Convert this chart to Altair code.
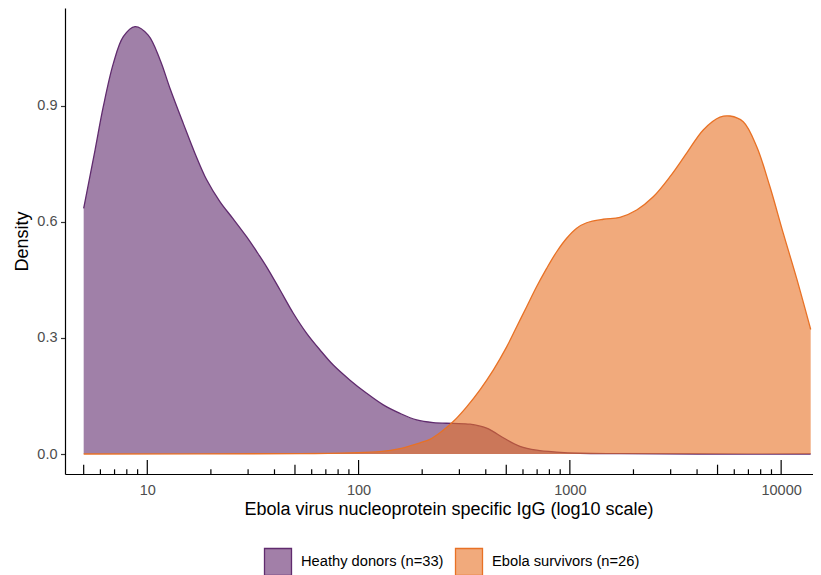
import altair as alt
import pandas as pd

groups = ["Heathy donors (n=33)", "Ebola survivors (n=26)"]
base_colors = ["#602B6E", "#E87125"]
legend_fills = ["#A27FA8", "#F1AA7C"]

heathy_x = [5.0, 5.66, 6.19, 6.91, 7.70, 8.75, 10.1, 11.5, 12.8, 14.8, 16.8, 19.1,
            22.1, 25.5, 29.5, 32.9, 36.7, 42.5, 49.1, 56.8, 65.7, 75.9, 91.1, 109.2,
            130.9, 157.1, 188.4, 225.7, 280.6, 336.6, 403.9, 434.0, 484, 580.4, 696.6, 866,
            1116, 1726, 4121, 13800]
heathy_y = [0.635, 0.786, 0.898, 1.010, 1.079, 1.105, 1.083, 1.019, 0.946, 0.855, 0.778, 0.709,
            0.652, 0.608, 0.562, 0.524, 0.484, 0.424, 0.364, 0.312, 0.269, 0.230, 0.191, 0.157,
            0.127, 0.105, 0.088, 0.081, 0.079, 0.077, 0.067, 0.058, 0.042, 0.020, 0.010, 0.005,
            0.002, 0.001, 0.0, 0.0]

ebola_x = [5.0, 52.8, 91.1, 126.3, 157.1, 195.3, 217.7, 242.8, 280.6, 324.8, 375.4, 434.0,
           502.2, 560.1, 624.5, 696.6, 776.6, 866.1, 965.8, 1077, 1201, 1439, 1726, 2071,
           2481, 2977, 3571, 4279, 5134, 5724, 6616, 7656, 8851, 10230, 11840, 13800]
ebola_y = [0.0, 0.001, 0.003, 0.006, 0.014, 0.029, 0.038, 0.055, 0.084, 0.122, 0.166, 0.217,
           0.277, 0.329, 0.381, 0.433, 0.480, 0.523, 0.558, 0.584, 0.598, 0.607, 0.612, 0.631,
           0.665, 0.717, 0.778, 0.838, 0.871, 0.874, 0.859, 0.795, 0.691, 0.571, 0.454, 0.322]

x_labels = [10, 100, 1000, 10000]
y_labels = [0.0, 0.3, 0.6, 0.9]
major_ticks = [10, 100, 1000, 10000]
mid_ticks = [5, 50, 500, 5000]
minor_ticks = [6, 7, 8, 9, 20, 30, 40, 60, 70, 80, 90, 200, 300, 400, 600, 700, 800, 900,
               2000, 3000, 4000, 6000, 7000, 8000, 9000]

W, H = 748, 466
FONT = "Liberation Sans"
CURVE = "catmull-rom"

xscale = alt.Scale(type="log", domain=[4.079, 14150], nice=False, zero=False)
yscale = alt.Scale(domain=[-0.0517, 1.1533], nice=False, zero=False)

xaxis = alt.Axis(values=x_labels, format="d", ticks=False, tickSize=0, grid=False,
                 labelPadding=9, labelFontSize=14.5, labelColor="#4D4D4D", labelFont=FONT,
                 domainColor="black", domainWidth=1.2,
                 title="Ebola virus nucleoprotein specific IgG (log10 scale)",
                 titleFont=FONT, titleFontSize=18, titleFontWeight="normal",
                 titleColor="black", titlePadding=3.5, titleX=383.5)
yaxis = alt.Axis(values=y_labels, format=".1f", tickSize=4.5, tickWidth=1.2, tickColor="#333333",
                 grid=False, labelPadding=3.5, labelFontSize=14.5, labelColor="#4D4D4D",
                 labelFont=FONT, domainColor="black", domainWidth=1.2,
                 title="Density", titleFont=FONT, titleFontSize=18, titleFontWeight="normal",
                 titleColor="black", titlePadding=5)

df_h = pd.DataFrame({"x": heathy_x, "y": heathy_y, "group": groups[0]})
df_e = pd.DataFrame({"x": ebola_x, "y": ebola_y, "group": groups[1]})


def area(df, color):
    return alt.Chart(df).mark_area(interpolate=CURVE, color=color, fillOpacity=0.6,
                                   strokeWidth=0).encode(
        x=alt.X("x:Q", scale=xscale, axis=xaxis),
        y=alt.Y("y:Q", scale=yscale, axis=yaxis),
        y2=alt.datum(0),
    )


def line(df, color):
    return alt.Chart(df).mark_line(interpolate=CURVE, color=color, strokeWidth=1.3).encode(
        x=alt.X("x:Q", scale=xscale, axis=xaxis),
        y=alt.Y("y:Q", scale=yscale, axis=yaxis),
    )


def ticks(vals, length):
    return alt.Chart(pd.DataFrame({"x": vals})).mark_rule(color="black", strokeWidth=1.2).encode(
        x=alt.X("x:Q", scale=xscale, axis=xaxis),
        y=alt.value(H),
        y2=alt.value(H - length),
    )


leg = alt.Legend(title=None, orient="none", legendX=198.5, legendY=539.3, direction="horizontal",
                 symbolType="square", symbolSize=729, symbolStrokeWidth=1.3,
                 symbolFillColor="#A27FA8", symbolOpacity=1,
                 labelFontSize=14.7, labelFont=FONT, labelColor="black", labelOffset=8.5,
                 columnPadding=9, padding=0, labelLimit=0)

df_leg = pd.DataFrame({"x": [5.0, 5.0], "y": [0.0, 0.0], "group": groups})
legend_layer = alt.Chart(df_leg).mark_point(shape="square", filled=True, size=729,
                                            strokeWidth=1.3).encode(
    x=alt.X("x:Q", scale=xscale, axis=xaxis),
    y=alt.Y("y:Q", scale=yscale, axis=yaxis),
    fill=alt.Fill("group:N", scale=alt.Scale(domain=groups, range=legend_fills), legend=leg),
    stroke=alt.Stroke("group:N", scale=alt.Scale(domain=groups, range=base_colors), legend=leg),
    opacity=alt.value(0),
)

chart = alt.layer(
    area(df_h, base_colors[0]),
    line(df_h, base_colors[0]),
    area(df_e, base_colors[1]),
    line(df_e, base_colors[1]),
    ticks(major_ticks, 14),
    ticks(mid_ticks, 9.3),
    ticks(minor_ticks, 4.7),
    legend_layer,
).properties(
    width=W, height=H,
    autosize=alt.AutoSizeParams(type="none"),
    padding={"left": 57, "top": 0, "right": 0, "bottom": 101},
    background="white",
).configure_view(stroke=None)

chart.save("out.html", embed_options={"renderer": "svg", "actions": False})
